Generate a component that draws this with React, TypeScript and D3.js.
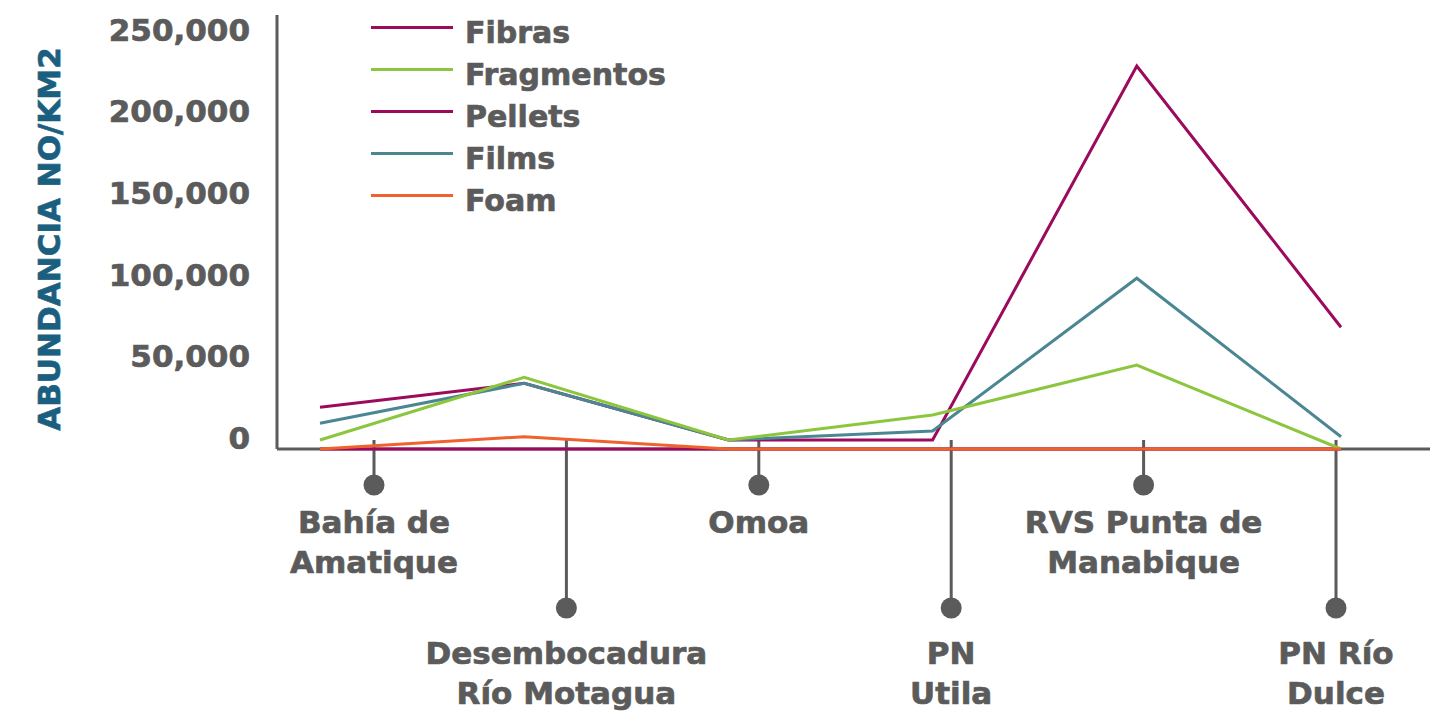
import React from "react";
import * as d3 from "d3";

const sites = [
  ["Bahía de", "Amatique"],
  ["Desembocadura", "Río Motagua"],
  ["Omoa"],
  ["PN", "Utila"],
  ["RVS Punta de", "Manabique"],
  ["PN Río", "Dulce"],
];
const siteKeys = sites.map((s) => s.join(" "));

const fibras = [25500, 40200, 5500, 5500, 234400, 74500];
const fragmentos = [5500, 43900, 5500, 20800, 51400, 0];
const pellets = [0, 0, 0, 0, 0, 0];
const films = [15700, 40200, 5500, 11000, 104500, 7500];
const foam = [0, 7500, 0, 0, 0, 0];

const yTicks = [0, 50000, 100000, 150000, 200000, 250000];

const series = [
  { name: "Fibras", color: "#9b0a5c", values: fibras },
  { name: "Fragmentos", color: "#8cc63f", values: fragmentos },
  { name: "Pellets", color: "#9b0a5c", values: pellets },
  { name: "Films", color: "#4b8792", values: films },
  { name: "Foam", color: "#f0622d", values: foam },
];
// paint order (bottom to top)
const drawOrder = ["Pellets", "Fibras", "Films", "Fragmentos", "Foam"];

const W = 1433;
const H = 711;
const gray = "#5b5b5b";
const font = "'DejaVu Sans', sans-serif";
// a touch of outline so the bold text reads heavier
const heavy = (c: string) => ({ stroke: c, strokeWidth: 0.7 });

export default function App() {
  const x = d3.scalePoint<string>().domain(siteKeys).range([320, 1341]);
  const xLabel = d3.scalePoint<string>().domain(siteKeys).range([374, 1336]);
  const y = d3.scaleLinear().domain([0, 250000]).range([449, 40.5]);
  const fmt = d3.format(",");

  const line = d3
    .line<number>()
    .x((_, i) => x(siteKeys[i]) as number)
    .y((d) => y(d));

  const ordered = drawOrder.map((n) => series.find((s) => s.name === n)!);

  return (
    <svg
      width={W}
      height={H}
      style={{ position: "absolute", left: 0, top: 0, background: "#fff" }}
      fontFamily={font}
    >
      {/* y title */}
      <text
        transform={`translate(48.5,239) rotate(-90)`}
        dy="0.36em"
        textAnchor="middle"
        fill="#1b5f80"
        fontSize={31}
        fontWeight={700}
        {...heavy("#1b5f80")}
      >
        ABUNDANCIA NO/KM2
      </text>

      {/* y tick labels */}
      {yTicks.map((t) => (
        <text
          key={t}
          x={250}
          y={y(t) - 11}
          dy="0.36em"
          textAnchor="end"
          fill={gray}
          fontSize={31}
          fontWeight={700}
          {...heavy(gray)}
        >
          {fmt(t)}
        </text>
      ))}

      {/* category drop lines & labels */}
      {sites.map((s, i) => {
        const cx = xLabel(siteKeys[i]) as number;
        const low = i % 2 === 1;
        const cy = low ? 608 : 485;
        const ty = low ? 653 : 522;
        return (
          <g key={siteKeys[i]}>
            <line x1={cx} x2={cx} y1={440} y2={cy} stroke={gray} strokeWidth={3} />
            <circle cx={cx} cy={cy} r={10.5} fill={gray} />
            {s.map((ln, j) => (
              <text
                key={j}
                x={cx}
                y={ty + j * 40}
                dy="0.36em"
                textAnchor="middle"
                fill={gray}
                fontSize={31}
                fontWeight={700}
                {...heavy(gray)}
              >
                {ln}
              </text>
            ))}
          </g>
        );
      })}

      {/* axes */}
      <line x1={277} x2={277} y1={15} y2={449} stroke={gray} strokeWidth={3} />
      <line x1={277} x2={1430} y1={449} y2={449} stroke={gray} strokeWidth={3} />

      {/* series */}
      {ordered.map((s) => (
        <path
          key={s.name}
          d={line(s.values) ?? ""}
          fill="none"
          stroke={s.color}
          strokeWidth={3}
          strokeLinejoin="miter"
        />
      ))}

      {/* legend */}
      {series.map((s, i) => (
        <g key={s.name} transform={`translate(371,${27.5 + i * 42})`}>
          <line x1={0} x2={82} y1={0} y2={0} stroke={s.color} strokeWidth={3} />
          <text
            x={94}
            y={5}
            dy="0.36em"
            fill={gray}
            fontSize={30}
            fontWeight={700}
            {...heavy(gray)}
          >
            {s.name}
          </text>
        </g>
      ))}
    </svg>
  );
}
